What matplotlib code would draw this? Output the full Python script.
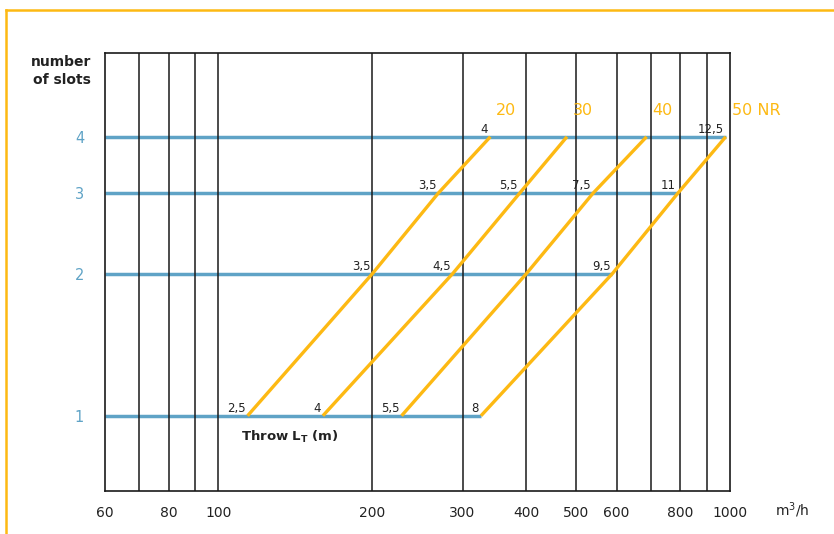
import matplotlib
matplotlib.use('Agg')
import matplotlib.pyplot as plt
from matplotlib.lines import Line2D
from matplotlib.ticker import NullLocator
import numpy as np

# ---------------- data ----------------
slots = [1, 2, 3, 4]
series_names = ['20', '30', '40', '50 NR']
flow_20 = [114, 200, 269, 340]
flow_30 = [160, 287, 388, 480]
flow_40 = [228, 400, 540, 687]
flow_50 = [326, 589, 791, 981]
throw_20 = ['2,5', '3,5', '3,5', '4']
throw_30 = ['4', '4,5', '5,5', '']
throw_40 = ['5,5', '', '7,5', '']
throw_50 = ['8', '9,5', '11', '12,5']
grid_x = [70, 80, 90, 100, 200, 300, 400, 500, 600, 700, 800, 900]
xtick_vals = [60, 80, 100, 200, 300, 400, 500, 600, 800, 1000]
xtick_labels = ['60', '80', '100', '200', '300', '400', '500', '600', '800', '1000']

flows = [flow_20, flow_30, flow_40, flow_50]
throws = [throw_20, throw_30, throw_40, throw_50]

# ---------------- style ----------------
ORANGE = '#FDB913'
BLUE = '#5FA3C6'
plt.rcParams['font.family'] = ['DejaVu Sans']

W, H = 834, 534
fig = plt.figure(figsize=(W / 100, H / 100), dpi=100)
ax = fig.add_axes([105 / W, 1 - 491 / H, (730 - 105) / W, (491 - 52.7) / H])


def fwd(y):
    return np.log10(np.maximum(np.asarray(y, dtype=float) - 0.1, 1e-6))


def inv(y):
    return 10 ** np.asarray(y, dtype=float) + 0.1


ax.set_xscale('log')
ax.set_yscale('function', functions=(fwd, inv))
ax.set_xlim(60, 1000)
ax.set_ylim(0.706, 6.167)

for g in grid_x:
    ax.axvline(g, color='#1a1a1a', lw=1.1, zorder=2.5)

for sp in ax.spines.values():
    sp.set_color('#1a1a1a')
    sp.set_linewidth(1.2)

# blue horizontal lines up to the last (50 NR) curve
for i, s in enumerate(slots):
    ax.plot([60, flow_50[i]], [s, s], color=BLUE, lw=2.5,
            solid_capstyle='butt', zorder=2)

# orange lines
for name, fl, th in zip(series_names, flows, throws):
    ax.plot(fl, slots, color=ORANGE, lw=2.4, solid_capstyle='butt', zorder=3)
    for i, s in enumerate(slots):
        if th[i]:
            ax.annotate(th[i], (fl[i], s), xytext=(-2, 4),
                        textcoords='offset pixels', ha='right', va='baseline',
                        fontsize=8.5, color='#222222', zorder=4)
    ax.annotate(name, (fl[-1], slots[-1]), xytext=(6, 26),
                textcoords='offset pixels', ha='left', va='center',
                fontsize=11.5, color=ORANGE)

ax.set_xticks(xtick_vals)
ax.set_xticklabels(xtick_labels)
ax.xaxis.set_minor_locator(NullLocator())
ax.set_yticks(slots)
ax.set_yticklabels([str(s) for s in slots])
ax.yaxis.set_minor_locator(NullLocator())
ax.tick_params(axis='x', length=0, pad=11, labelsize=10, labelcolor='#222222')
ax.tick_params(axis='y', length=0, pad=15, labelsize=10.5, labelcolor=BLUE)

ax.text((241 - 105) / 625, 1 - (437 - 52.7) / 438.3, r'Throw L$_\mathregular{T}$ (m)',
        transform=ax.transAxes, ha='left', va='center', fontsize=9.5,
        fontweight='bold', color='#222222')

fig.text(91 / W, 1 - 71 / H, 'number\nof slots', ha='right', va='center',
         multialignment='right', fontsize=10, fontweight='bold',
         color='#222222', linespacing=1.3)
fig.text(775 / W, 1 - 510 / H, r'm$^\mathregular{3}$/h', ha='left', va='center',
         fontsize=10, color='#222222')

# orange frame
fig.add_artist(Line2D([6 / W, 1], [1 - 10 / H, 1 - 10 / H], color=ORANGE,
                      lw=1.8, transform=fig.transFigure))
fig.add_artist(Line2D([6 / W, 6 / W], [0, 1 - 10 / H], color=ORANGE,
                      lw=1.8, transform=fig.transFigure))

fig.savefig('out.png', dpi=100)
